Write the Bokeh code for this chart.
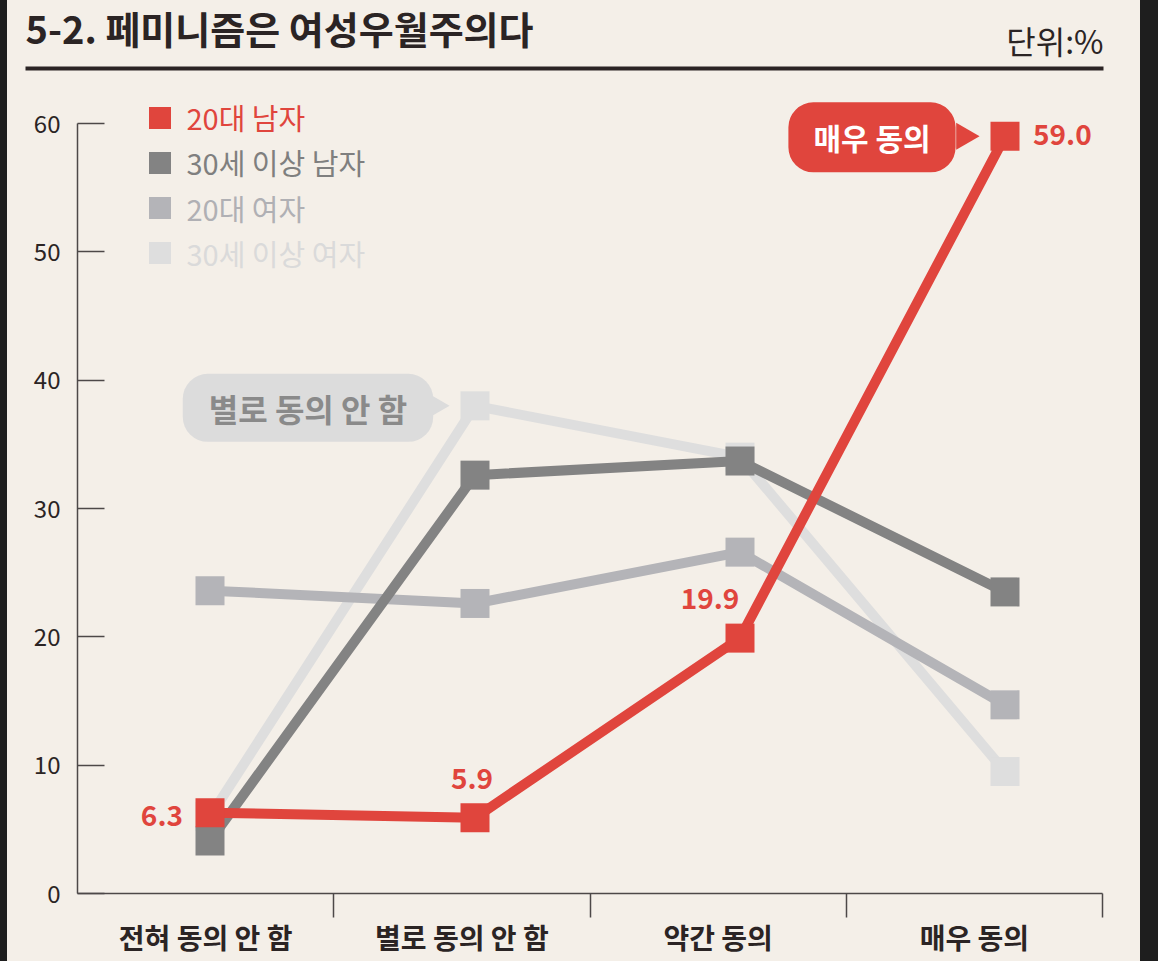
import math
from bokeh.plotting import figure
from bokeh.models import (Range1d, FixedTicker, LinearAxis, CustomJSTickFormatter, Label,
                          Legend, LegendItem, GlobalInlineStyleSheet)
from bokeh.embed import file_html
from bokeh.resources import INLINE
from bokeh.core.properties import value

# ---------------- data ----------------
TITLE = "5-2. 페미니즘은 여성우월주의다"
UNIT = "단위:%"
CATEGORIES = ["전혀 동의 안 함", "별로 동의 안 함", "약간 동의", "매우 동의"]
SERIES_NAMES = ["20대 남자", "30세 이상 남자", "20대 여자", "30세 이상 여자"]
MEN_20S = [6.3, 5.9, 19.9, 59.0]
MEN_30PLUS = [4.1, 32.6, 33.7, 23.5]
WOMEN_20S = [23.6, 22.6, 26.6, 14.7]
WOMEN_30PLUS = [6.0, 38.0, 34.0, 9.5]
Y_TICKS = [0, 10, 20, 30, 40, 50, 60]
CALLOUT_HIGH = "매우 동의"
CALLOUT_LOW = "별로 동의 안 함"

# ---------------- style ----------------
FONT = "Noto Sans CJK KR"
BG = "#f4efe8"
INK = "#2b2424"
AXIS = "#4d4848"
RED = "#e0453d"
DARK = "#838383"
MID = "#b4b4b8"
LIGHT = "#dedede"
COLORS = [RED, DARK, MID, LIGHT]
LEGEND_TEXT = [RED, "#7f7f7f", "#b0b0b4", "#dadada"]
CALLOUT_GRAY = "#dcdcdc"

W, H = 1133, 961
MB_L, MB_R, MB_T, MB_B = 70, 38, 85, 68
FRAME_W = W - MB_L - MB_R          # 1025
FRAME_H = H - MB_T - MB_B          # 808
PX_PER_Y = 770 / 60                # pixels per percentage point
PX_PER_X = 265                     # pixels between answer points

x_start = -0.5
x_end = x_start + FRAME_W / PX_PER_X
y_end = FRAME_H / PX_PER_Y

p = figure(width=W, height=H, x_range=Range1d(x_start, x_end), y_range=Range1d(0, y_end),
           output_backend="svg", toolbar_location=None,
           x_axis_location=None, y_axis_location=None,
           min_border_left=MB_L, min_border_right=MB_R, min_border_top=MB_T, min_border_bottom=MB_B,
           background_fill_color=BG, border_fill_color=BG, outline_line_color=None)
p.grid.visible = False

# ---------------- axes ----------------
n = len(CATEGORIES)
cw = (x_end - x_start) / n
centers = [x_start + (k + 0.5) * cw for k in range(n)]
seps = [min(x_start + (k + 1) * cw, x_end - 1e-6) for k in range(n)]

xaxis = LinearAxis(
    ticker=FixedTicker(ticks=centers, minor_ticks=seps),
    formatter=CustomJSTickFormatter(args=dict(centers=centers, names=CATEGORIES), code="""
        let best = 0;
        for (let i = 0; i < centers.length; i++) {
            if (Math.abs(centers[i] - tick) < Math.abs(centers[best] - tick)) best = i;
        }
        return names[best];
    """),
    axis_line_color=AXIS, axis_line_width=1.5,
    major_tick_in=0, major_tick_out=0,
    minor_tick_in=0, minor_tick_out=24, minor_tick_line_color=AXIS, minor_tick_line_width=1.5,
    major_label_standoff=-1, major_label_text_font=FONT, major_label_text_font_size="28px",
    major_label_text_font_style="bold", major_label_text_color=INK)
p.add_layout(xaxis, "below")

yaxis = LinearAxis(
    ticker=FixedTicker(ticks=Y_TICKS, minor_ticks=[]), bounds=(0, 60),
    axis_line_color=AXIS, axis_line_width=1.5,
    major_tick_in=27, major_tick_out=0, major_tick_line_color=AXIS, major_tick_line_width=1.5,
    minor_tick_in=0, minor_tick_out=0,
    major_label_standoff=17, major_label_text_font=FONT, major_label_text_font_size="24px",
    major_label_text_color=INK)
p.add_layout(yaxis, "left")

# ---------------- header (drawn above the frame, unclipped) ----------------
def px_to_x(px):
    return x_start + (px - MB_L) / PX_PER_X

def py_to_y(py):
    return (MB_T + FRAME_H - py) / PX_PER_Y

p.text(x=[px_to_x(18)], y=[py_to_y(27)], text=[TITLE], text_font=value(FONT),
       text_font_size="38px", text_font_style="bold", text_color=INK,
       text_align="left", text_baseline="middle", level="overlay")
p.text(x=[px_to_x(1096)], y=[py_to_y(39)], text=[UNIT], text_font=value(FONT),
       text_font_size="32px", text_color=INK,
       text_align="right", text_baseline="middle", level="overlay")
p.segment(x0=[px_to_x(18)], y0=[py_to_y(68)], x1=[px_to_x(1096)], y1=[py_to_y(68)],
          line_width=4, line_color=INK, level="overlay")

# ---------------- series ----------------
xs = list(range(n))
series = [MEN_20S, MEN_30PLUS, WOMEN_20S, WOMEN_30PLUS]
scatter_r = [None] * 4
for idx in [3, 2, 1, 0]:
    p.line(xs, series[idx], line_width=10, line_color=COLORS[idx])
    scatter_r[idx] = p.scatter(xs, series[idx], marker="square", size=29,
                               fill_color=COLORS[idx], line_color=None)

# callout pointers
ptr_dx = -41 / PX_PER_X
p.scatter(x=[3 + ptr_dx, 1 + ptr_dx], y=[MEN_20S[3], WOMEN_30PLUS[1]], marker="triangle",
          angle=-math.pi / 2, size=27, fill_color=[RED, CALLOUT_GRAY], line_color=None)

# legends (one per series so each label keeps its colour)
for i, name in enumerate(SERIES_NAMES):
    leg = Legend(items=[LegendItem(label=name, renderers=[scatter_r[i]])],
                 location=(54.5, 748.5 - i * 45.3), orientation="vertical",
                 glyph_width=55, glyph_height=55, label_standoff=-9,
                 padding=0, margin=0, spacing=0,
                 background_fill_alpha=0, border_line_alpha=0,
                 label_text_font=FONT, label_text_font_size="29px",
                 label_text_color=LEGEND_TEXT[i])
    p.add_layout(leg)

# value labels for 20대 남자
VALUE_LABEL_POS = [("right", -27, -3), ("center", -3, 39), ("center", -30, 40), ("left", 28, 2)]
for i, v in enumerate(MEN_20S):
    align, dx, dy = VALUE_LABEL_POS[i]
    p.add_layout(Label(x=xs[i], y=v, text=f"{v:.1f}", x_offset=dx, y_offset=dy,
                       text_align=align, text_baseline="middle", text_font=FONT,
                       text_font_size="28px", text_font_style="bold", text_color=RED))

# callouts
p.add_layout(Label(x=3, y=MEN_20S[3], text=CALLOUT_HIGH, x_offset=-133, y_offset=-1,
                   text_align="center", text_baseline="middle", text_color="white",
                   text_font=FONT, text_font_size="30px", text_font_style="bold",
                   background_fill_color=RED, border_radius=25, padding=(25, 13)))
p.add_layout(Label(x=1, y=WOMEN_30PLUS[1], text=CALLOUT_LOW, x_offset=-167, y_offset=-2,
                   text_align="center", text_baseline="middle", text_color="#8a8a8a",
                   text_font=FONT, text_font_size="32px", text_font_style="bold",
                   background_fill_color=CALLOUT_GRAY, border_radius=25, padding=(26, 11)))

p.stylesheets = [GlobalInlineStyleSheet(css=(
    "html { background-color: #1e1e1e !important; }"
    " body { background-color: #f4efe8 !important; margin: 0 0 0 7px !important;"
    " width: 1133px !important; }"))]

open("out.html", "w").write(file_html(p, INLINE))
